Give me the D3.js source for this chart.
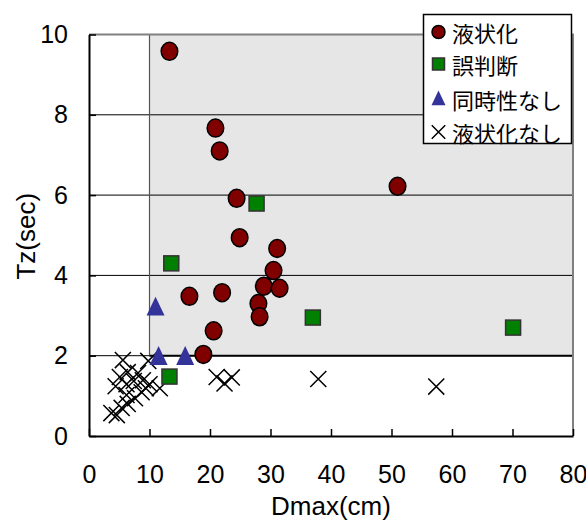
<!DOCTYPE html>
<html>
<head>
<meta charset="utf-8">
<script src="https://cdn.jsdelivr.net/npm/d3@7"></script>
<style>
  body { margin: 0; background: #fff; }
  text { font-family: "Liberation Sans", Arial, sans-serif; }
  .jp { font-family: "Noto Sans CJK JP", sans-serif; }
</style>
</head>
<body>
<div id="chart"></div>
<script>
// 液状化
const liqX = [13.3, 20.9, 21.6, 24.4, 51.0, 24.9, 31.1, 30.5, 16.6, 22.0, 28.9, 31.5, 28.0, 28.2, 20.6, 18.9];
const liqY = [9.58, 7.67, 7.10, 5.92, 6.22, 4.94, 4.67, 4.12, 3.48, 3.57, 3.73, 3.68, 3.30, 2.97, 2.62, 2.03];
// 誤判断
const errX = [27.7, 13.6, 37.0, 70.1, 13.3];
const errY = [5.79, 4.30, 2.95, 2.70, 1.48];
// 同時性なし
const simX = [11.0, 11.5, 15.9];
const simY = [3.20, 1.97, 1.97];
// 液状化なし
const noX = [5.6, 9.8, 5.1, 6.4, 8.1, 4.4, 6.2, 7.4, 8.9, 10.0, 11.7, 6.2, 7.6, 8.7, 9.4, 6.4, 3.7, 4.6, 5.4, 21.1, 22.4, 23.6, 37.9, 57.4];
const noY = [1.89, 1.87, 1.47, 1.59, 1.57, 1.24, 1.29, 1.37, 1.39, 1.29, 1.19, 1.02, 0.94, 1.09, 1.19, 0.80, 0.57, 0.52, 0.70, 1.47, 1.31, 1.46, 1.42, 1.23];

const xTicks = [0, 10, 20, 30, 40, 50, 60, 70, 80];
const yTicks = [0, 2, 4, 6, 8, 10];
const legendLabels = ["液状化", "誤判断", "同時性なし", "液状化なし"];

const width = 586, height = 520;
const svg = d3.select("#chart").append("svg")
  .attr("width", width)
  .attr("height", height);

const x = d3.scaleLinear().domain([0, 80]).range([89, 573]);
const y = d3.scaleLinear().domain([0, 10]).range([436, 34.5]);

// shaded zone
svg.append("rect")
  .attr("x", x(10)).attr("y", y(10))
  .attr("width", x(80) - x(10)).attr("height", y(2) - y(10))
  .attr("fill", "#e6e6e6");

// grid lines
svg.append("g").selectAll("line")
  .data([2, 4, 6, 8])
  .join("line")
  .attr("x1", x(0)).attr("x2", x(80))
  .attr("y1", d => y(d)).attr("y2", d => y(d))
  .attr("stroke", "#000").attr("stroke-width", 1);

// zone borders
svg.append("line")
  .attr("x1", x(10)).attr("x2", x(10))
  .attr("y1", y(10)).attr("y2", y(2))
  .attr("stroke", "#555").attr("stroke-width", 1.2);
svg.append("line")
  .attr("x1", x(10)).attr("x2", x(80))
  .attr("y1", y(2)).attr("y2", y(2))
  .attr("stroke", "#000").attr("stroke-width", 2);

// frame top / right
svg.append("path")
  .attr("d", `M${x(0)},${y(10)}H${x(80)}V${y(0)}`)
  .attr("fill", "none")
  .attr("stroke", "#808080").attr("stroke-width", 2);

// axes
const xAxis = svg.append("g")
  .attr("transform", `translate(0,${y(0)})`)
  .call(d3.axisBottom(x).tickValues(xTicks).tickSizeInner(-7).tickSizeOuter(0).tickPadding(29));
const yAxis = svg.append("g")
  .attr("transform", `translate(${x(0)},0)`)
  .call(d3.axisLeft(y).tickValues(yTicks).tickSizeInner(-7).tickSizeOuter(0).tickPadding(21));

[xAxis, yAxis].forEach(a => {
  a.select(".domain").attr("stroke", "#000").attr("stroke-width", 2);
  a.selectAll(".tick line").attr("stroke", "#000").attr("stroke-width", 1.5);
  a.selectAll(".tick text")
    .attr("fill", "#000")
    .style("font-family", "'Liberation Sans', Arial, sans-serif")
    .style("font-size", "25px");
});

// axis titles
svg.append("text")
  .attr("x", x(40)).attr("y", 515)
  .attr("text-anchor", "middle")
  .style("font-size", "26px")
  .text("Dmax(cm)");
svg.append("text")
  .attr("transform", `translate(35,${(y(0) + y(10)) / 2 + 1})rotate(-90)`)
  .attr("text-anchor", "middle")
  .style("font-size", "26px")
  .text("Tz(sec)");

// triangle marker, a bit taller than equilateral
const tri = s => `M0,${-s * 0.6}L${s / 2},${s * 0.45}L${-s / 2},${s * 0.45}Z`;

// markers
const noData = noX.map((d, i) => [d, noY[i]]);
svg.append("g").selectAll("path")
  .data(noData)
  .join("path")
  .attr("transform", d => `translate(${x(d[0])},${y(d[1])})`)
  .attr("d", d3.symbol(d3.symbolTimes, 170))
  .attr("fill", "none").attr("stroke", "#000").attr("stroke-width", 1.5);

const errData = errX.map((d, i) => [d, errY[i]]);
svg.append("g").selectAll("rect")
  .data(errData)
  .join("rect")
  .attr("x", d => x(d[0]) - 7.5).attr("y", d => y(d[1]) - 7.5)
  .attr("width", 15).attr("height", 15)
  .attr("fill", "#008000").attr("stroke", "#333").attr("stroke-width", 1.5);

const simData = simX.map((d, i) => [d, simY[i]]);
svg.append("g").selectAll("path")
  .data(simData)
  .join("path")
  .attr("transform", d => `translate(${x(d[0])},${y(d[1])})`)
  .attr("d", tri(18))
  .attr("fill", "#333399");

const liqData = liqX.map((d, i) => [d, liqY[i]]);
svg.append("g").selectAll("ellipse")
  .data(liqData)
  .join("ellipse")
  .attr("cx", d => x(d[0])).attr("cy", d => y(d[1]))
  .attr("rx", 8.3).attr("ry", 9)
  .attr("fill", "#800000").attr("stroke", "#000").attr("stroke-width", 1.5);

// legend
const legend = svg.append("g");
legend.append("rect")
  .attr("x", 423.5).attr("y", 14.5)
  .attr("width", 148).attr("height", 129)
  .attr("fill", "#fff").attr("stroke", "#000").attr("stroke-width", 1.5);

const legendY = [32, 64, 99, 132];
const lx = 438.5;
legend.append("circle")
  .attr("cx", lx).attr("cy", legendY[0]).attr("r", 6.5)
  .attr("fill", "#800000").attr("stroke", "#000").attr("stroke-width", 1.5);
legend.append("rect")
  .attr("x", lx - 6).attr("y", legendY[1] - 6).attr("width", 12).attr("height", 12)
  .attr("fill", "#008000").attr("stroke", "#333").attr("stroke-width", 1.5);
legend.append("path")
  .attr("transform", `translate(${lx},${legendY[2]})`)
  .attr("d", tri(14))
  .attr("fill", "#333399");
legend.append("path")
  .attr("transform", `translate(${lx},${legendY[3]})`)
  .attr("d", d3.symbol(d3.symbolTimes, 120))
  .attr("fill", "none").attr("stroke", "#000").attr("stroke-width", 1.5);

legend.selectAll("text.jp")
  .data(legendLabels)
  .join("text")
  .attr("class", "jp")
  .attr("x", 452)
  .attr("y", (d, i) => legendY[i])
  .attr("dominant-baseline", "central")
  .style("font-size", "22px")
  .attr("fill", "#000")
  .text(d => d);
</script>
</body>
</html>
